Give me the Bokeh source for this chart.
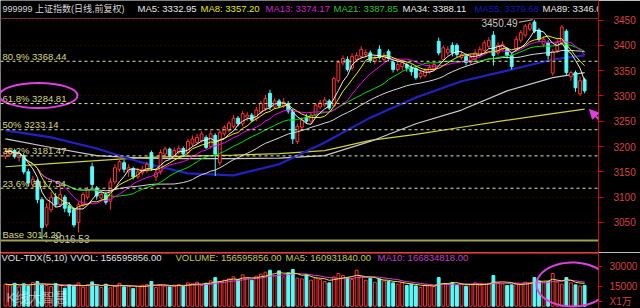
import numpy as np
from bokeh.plotting import figure
from bokeh.layouts import column
from bokeh.models import Range1d, FixedTicker, Span, Arrow, NormalHead, PolyAnnotation
from bokeh.core.properties import value
from bokeh.embed import file_html
from bokeh.resources import INLINE

# ---------------- data ----------------
opens = [3180,3185,3192,3178,3182,3150,3125,3132,3095,3045,
         3075,3100,3085,3100,3082,3075,3050,3085,3100,3160,
         3118,3098,3105,3092,3130,3155,3168,3150,3156,3140,
         3148,3152,3188,3140,3150,3185,3195,3182,3188,3196,
         3188,3205,3208,3212,3218,3200,3222,3168,3225,3232,
         3240,3256,3245,3258,3262,3255,3268,3275,3305,3278,
         3290,3280,3285,3270,3210,3238,3258,3250,3262,3278,
         3282,3290,3280,3330,3365,3372,3355,3372,3378,3382,
         3385,3368,3392,3372,3388,3366,3352,3358,3362,3356,
         3354,3338,3340,3348,3354,3408,3372,3385,3400,3400,
         3376,3378,3366,3372,3380,3390,3398,3420,3385,3392,
         3392,3380,3392,3410,3420,3432,3446,3430,3402,3405,
         3345,3390,3405,3428,3338,3346,3304,3332]
highs = [3195,3198,3196,3192,3186,3156,3142,3136,3100,3088,
         3110,3108,3125,3104,3090,3080,3090,3110,3120,3168,
         3122,3112,3110,3138,3165,3178,3174,3165,3160,3158,
         3162,3170,3192,3155,3194,3200,3198,3198,3202,3200,
         3215,3222,3225,3230,3222,3232,3226,3232,3242,3250,
         3262,3260,3270,3268,3266,3278,3290,3302,3312,3295,
         3294,3296,3290,3274,3245,3258,3264,3268,3286,3292,
         3298,3294,3338,3370,3380,3378,3384,3386,3398,3392,
         3390,3380,3400,3386,3392,3370,3368,3372,3366,3362,
         3358,3350,3355,3362,3368,3415,3400,3398,3406,3404,
         3388,3384,3382,3392,3398,3410,3416,3428,3406,3408,
         3396,3384,3418,3430,3442,3446,3450.49,3434,3418,3410,
         3392,3412,3440,3432,3350,3350,3338,3336]
lows = [3175,3180,3176,3170,3145,3122,3118,3088,3016.53,3040,
        3070,3080,3080,3070,3062,3040,3030,3080,3095,3118,
        3095,3092,3085,3075,3125,3150,3148,3140,3135,3136,
        3143,3148,3152,3132,3145,3180,3178,3178,3184,3180,
        3184,3200,3205,3208,3195,3196,3142,3162,3220,3228,
        3236,3240,3240,3250,3248,3250,3264,3270,3272,3274,
        3276,3276,3265,3205,3205,3232,3245,3246,3258,3274,
        3278,3272,3278,3326,3360,3348,3350,3368,3374,3376,
        3365,3362,3372,3366,3368,3346,3348,3350,3348,3340,
        3332,3334,3336,3344,3350,3380,3368,3380,3378,3376,
        3372,3360,3362,3368,3376,3386,3394,3360,3380,3388,
        3374,3352,3388,3405,3416,3428,3424,3406,3396,3372,
        3340,3384,3400,3340,3330,3308,3300,3305]
closes = [3190,3192,3180,3186,3150,3128,3135,3095,3040,3080,
          3100,3085,3105,3078,3070,3045,3085,3105,3115,3125,
          3102,3105,3090,3130,3158,3170,3155,3158,3140,3150,
          3155,3165,3158,3148,3188,3195,3182,3192,3196,3185,
          3210,3215,3218,3225,3198,3225,3185,3228,3238,3246,
          3256,3245,3265,3262,3252,3272,3285,3295,3278,3290,
          3280,3288,3270,3215,3240,3252,3250,3262,3282,3286,
          3292,3276,3334,3366,3374,3352,3378,3380,3392,3386,
          3370,3374,3376,3380,3374,3352,3362,3366,3355,3348,
          3336,3345,3350,3356,3362,3385,3395,3392,3385,3382,
          3382,3366,3376,3385,3392,3405,3410,3380,3400,3402,
          3380,3358,3412,3425,3438,3442,3428,3412,3412,3380,
          3388,3406,3436,3346,3346,3316,3330,3310]
volumes = [16500,15800,17200,14500,16800,15200,17800,18500,16000,15500,
           14800,17000,15600,13500,16200,15000,17500,14200,16000,18200,
           15200,14000,16500,13800,15500,17200,14500,15000,13200,14800,
           15800,16200,18500,14000,16000,15200,14500,15800,16200,14800,
           17500,16800,18000,15500,17200,19000,21500,18500,19500,20500,
           22000,20000,23500,21000,19500,22500,24000,25500,27000,23000,
           26500,22000,25000,27500,21000,20500,23500,19500,21500,20000,
           18500,17500,22000,24500,23000,21500,20000,27000,22500,19500,
           21000,18000,20500,19000,18500,17500,16500,17800,15500,16500,
           15200,14000,16000,15500,14800,21500,17000,16500,17800,15500,
           16800,15000,16200,17500,15800,16800,17200,23000,17500,16800,
           15500,16000,17000,16200,18000,17500,21500,19000,17800,18500,
           24500,18000,16500,21500,17500,16000,15200,15660]

# long moving averages at these candle indices
long_ma_idx = [0, 10, 20, 30, 40, 50, 60, 70, 80, 90, 100, 110, 120, 127]
ma55_vals = [3232, 3218, 3196, 3168, 3147, 3143, 3165, 3208, 3257, 3297, 3329, 3350, 3372, 3380]
ma89_vals = [3215, 3198, 3182, 3177, 3176, 3176, 3177, 3182, 3210, 3245, 3272, 3310, 3336, 3346]
ma144_vals = [3160, 3166, 3172, 3178, 3181, 3183, 3186, 3192, 3212, 3224, 3238, 3252, 3265, 3274]

fib_levels = [3368.44, 3284.81, 3233.14, 3181.47, 3117.54]
fib_labels = ["80.9% 3368.44", "61.8% 3284.81", "50% 3233.14", "38.2% 3181.47", "23.6% 3117.54"]
base_level = 3014.20
base_label = "Base 3014.20"
high_label = "3450.49"
low_label = "\u21903016.53"
price_ticks = [3050, 3100, 3150, 3200, 3250, 3300, 3350, 3400, 3450]
vol_ticks = [3500, 15000, 30000]
vol_tick_labels = {3500: "X1\u4e07", 15000: "15000", 30000: "30000"}

header_texts = ["999999 \u4e0a\u8bc1\u6307\u6570(\u65e5\u7ebf,\u524d\u590d\u6743)", "MA5: 3332.95", "MA8: 3357.20",
                "MA13: 3374.17", "MA21: 3387.85", "MA34: 3388.11", "MA55: 3379.68", "MA89: 3346.05"]
vol_header_texts = ["VOL-TDX(5,10)  VVOL: 156595856.00", "VOLUME: 156595856.00",
                    "MA5: 160931840.00", "MA10: 166834818.00"]

# ---------------- layout helpers (pixel -> data) ----------------
PX = 4.56
X0 = 5.0
PPP = 0.506
def sx(px): return (px - X0) / PX
def py(px): return 3450 - (px - 19.5) / PPP
def vy(px): return (305.7 - px) * 750.0

N = len(closes)
idx = np.arange(N)
o = np.array(opens, float); c = np.array(closes, float)
h = np.array(highs, float); l = np.array(lows, float)
up = c >= o
RED = "#FF3232"; CYAN = "#54FCFC"
cols = [RED if u else CYAN for u in up]
fills = ["black" if u else CYAN for u in up]

def ma(vals, n):
    v = np.asarray(vals, float)
    return np.array([v[max(0, i - n + 1):i + 1].mean() for i in range(len(v))])

FONT = value("Liberation Sans, Noto Sans CJK SC")

# ---------------- main price panel ----------------
p = figure(frame_width=598, frame_height=252, x_range=Range1d(sx(0), sx(598)),
           y_range=Range1d(py(252), py(0)), output_backend="svg", toolbar_location=None,
           x_axis_location=None, y_axis_location="right",
           background_fill_color="black", border_fill_color="black", outline_line_color=None,
           min_border_left=0, min_border_top=0, min_border_bottom=0, min_border_right=42)
p.xgrid.visible = False
p.ygrid.grid_line_color = "#5A0000"
p.ygrid.grid_line_dash = "1 3"
ax = p.yaxis[0]
ax.ticker = FixedTicker(ticks=price_ticks)
ax.axis_line_color = "#E00000"
ax.major_tick_line_color = "#E00000"
ax.major_tick_out = 5
ax.major_tick_in = 0
ax.minor_tick_line_color = None
ax.major_label_text_color = "#D84040"
ax.major_label_text_font_size = "10px"
ax.major_label_text_font = "Liberation Sans"
ax.major_label_standoff = 10

# header line
p.add_layout(Span(location=py(18), dimension="width", line_color="#6A3A2A", line_width=1))

# fib lines
for lvl in fib_levels:
    p.add_layout(Span(location=lvl, dimension="width", line_color="#E6E6A0", line_dash="3 3", line_width=1))
p.add_layout(Span(location=base_level, dimension="width", line_color="#A0A050", line_width=2))

# long MAs
p.line(long_ma_idx, ma144_vals, line_color="#D0D040", line_width=1.2)
p.line(long_ma_idx, ma89_vals, line_color="#C8C8C8", line_width=1.2)
p.line(long_ma_idx, ma55_vals, line_color="#2222C0", line_width=2.2)

# candles
p.segment(x0=idx, y0=l, x1=idx, y1=h, line_color=cols, line_width=1)
p.vbar(x=idx, bottom=np.minimum(o, c), top=np.maximum(o, c), width=0.62,
       fill_color=fills, line_color=cols, line_width=1)

# short MAs
for n, colr in [(34, "#D8D8D8"), (21, "#00E000"), (13, "#F000F0"), (8, "#F0F000"), (5, "#F0F0F0")]:
    p.line(idx, ma(closes, n), line_color=colr, line_width=1)

# fib labels
p.text(x=[sx(2)] * len(fib_levels), y=[v + 5 / PPP for v in fib_levels], text=fib_labels,
       text_color="#D8D880", text_font=FONT, text_font_size="9.5px", text_baseline="middle")
p.text(x=[sx(2)], y=[base_level + 6 / PPP], text=[base_label], text_color="#D8D880",
       text_font=FONT, text_font_size="9.5px", text_baseline="middle")

# high / low labels
hi_i = int(np.argmax(h)); lo_i = int(np.argmin(l))
p.text(x=[hi_i - 3.7], y=[h[hi_i] - 7], text=[high_label], text_color="#C8C8C8",
       text_font=FONT, text_font_size="10px", text_align="right", text_baseline="middle")
p.segment(x0=[hi_i - 3.4], y0=[h[hi_i] - 5], x1=[hi_i - 0.4], y1=[h[hi_i]], line_color="#C8C8C8")
p.text(x=[lo_i + 0.3], y=[l[lo_i] - 1], text=[low_label], text_color="#C8C8C8",
       text_font=FONT, text_font_size="10px", text_baseline="middle")

# header
hdr_x = [2, 137, 200, 265, 333, 402, 474, 542]
hdr_c = ["#D8D8D8", "#E8E8E8", "#E8E800", "#D020D0", "#30C030", "#E8E8E8", "#1818B8", "#E8E8E8"]
p.text(x=[sx(v) for v in hdr_x[:1]], y=[py(8)], text=header_texts[:1], text_color=hdr_c[:1],
       text_font=FONT, text_font_size="9px", text_baseline="middle")
p.text(x=[sx(v) for v in hdr_x[1:]], y=[py(8)] * (len(hdr_x) - 1), text=header_texts[1:],
       text_color=hdr_c[1:], text_font=FONT, text_font_size="9.5px", text_baseline="middle")

# magenta annotations
p.ellipse(x=sx(38), y=py(95), width=78 / PX, height=25 / PPP, fill_color=None,
          line_color="#E040E0", line_width=2)
p.add_layout(Arrow(end=NormalHead(size=9, fill_color="#E040E0", line_color="#E040E0"),
                   x_start=sx(626), y_start=py(148), x_end=sx(589), y_end=py(109),
                   line_color="#E040E0", line_width=2))

# ---------------- volume panel ----------------
pv = figure(frame_width=598, frame_height=56, x_range=p.x_range,
            y_range=Range1d(vy(308), vy(252)), output_backend="svg", toolbar_location=None,
            x_axis_location=None, y_axis_location="right",
            background_fill_color="black", border_fill_color="black", outline_line_color=None,
            min_border_left=0, min_border_top=0, min_border_bottom=0, min_border_right=42)
pv.xgrid.visible = False
pv.ygrid.visible = False
vax = pv.yaxis[0]
vax.ticker = FixedTicker(ticks=vol_ticks)
vax.major_label_overrides = vol_tick_labels
vax.axis_line_color = "#E00000"
vax.major_tick_line_color = "#E00000"
vax.major_tick_out = 4
vax.major_tick_in = 0
vax.minor_tick_line_color = None
vax.major_label_text_color = "#D84040"
vax.major_label_text_font_size = "10px"
vax.major_label_text_font = "Liberation Sans, Noto Sans CJK SC"
vax.major_label_standoff = 7

pv.add_layout(Span(location=vy(252.7), dimension="width", line_color="#E00000", line_width=1.5))
pv.vbar(x=idx, bottom=0, top=volumes, width=0.62, fill_color=fills, line_color=cols, line_width=1)
pv.line(idx, ma(volumes, 10), line_color="#E040E0", line_width=1)
pv.line(idx, ma(volumes, 5), line_color="#E8E050", line_width=1)

vh_x = [1, 175, 285, 377]
vh_c = ["#E0E0E0", "#C8C850", "#C8C850", "#C040C0"]
pv.text(x=[sx(v) for v in vh_x], y=[vy(256.5)] * 4, text=vol_header_texts, text_color=vh_c,
        text_font=FONT, text_font_size="9.5px", text_baseline="middle")
pv.text(x=[sx(6)], y=[vy(297)], text=["K\u7ebf\u5927\u667a\u6167"], text_color="#FFFFFF",
        text_alpha=0.55, text_font=FONT, text_font_size="13px", text_baseline="middle")

t = np.linspace(0, 2 * np.pi, 60)
ecx, ecy = sx(572), vy(284)
pv.add_layout(PolyAnnotation(xs=list(ecx + (36 / PX) * np.cos(t)), ys=list(ecy + 22 * 750 * np.sin(t)),
                             fill_alpha=0, line_alpha=1.0, line_color="#E040E0", line_width=2))

layout = column(p, pv, spacing=0)
open("out.html", "w").write(file_html(layout, INLINE))
